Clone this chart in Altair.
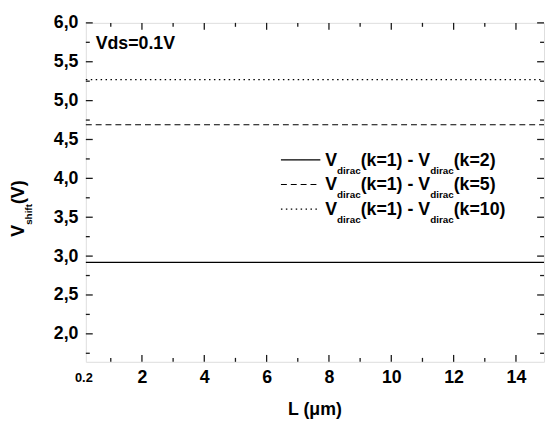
import altair as alt
import pandas as pd

# ---------------- data ----------------
k_values = [2, 5, 10]
v_shift = [2.92, 4.69, 5.27]          # V_shift (V), constant vs L
x_domain = [0.2, 14.9]
y_domain = [1.64, 6.0]
x_major = [2, 4, 6, 8, 10, 12, 14]
x_minor = [1, 3, 5, 7, 9, 11, 13]
y_major = [2.0, 2.5, 3.0, 3.5, 4.0, 4.5, 5.0, 5.5, 6.0]
y_minor = [1.75, 2.25, 2.75, 3.25, 3.75, 4.25, 4.75, 5.25, 5.75]
x_first_label = ["0.2"]
annotation = "Vds=0.1V"
x_title = "L (\u03bcm)"

# ---------------- styling ----------------
W, H = 465, 344
FONT = "Liberation Sans"
MAIN, SUB = 18, 10
INK = "#1a1a1a"
dashes = [[1, 0], [6, 4], [1.5, 3.5]]

AW = {'V': 667, 'd': 611, 'i': 278, 'r': 389, 'a': 556, 'c': 556, '(': 333, ')': 333,
      'k': 556, '=': 584, '1': 556, '2': 556, '5': 556, '0': 556, ' ': 278, '-': 333,
      's': 556, 'h': 611, 'f': 333, 't': 333}


def tw(s, size):
    return sum(AW.get(ch, 556) for ch in s) * size / 1000.0


xs = alt.Scale(domain=x_domain, nice=False, zero=False)
ys = alt.Scale(domain=y_domain, nice=False, zero=False)

xaxis = alt.Axis(values=x_major, ticks=False, domain=False, grid=False, title=None,
                 labelFont=FONT, labelFontWeight="bold", labelFontSize=MAIN,
                 labelColor="black", labelPadding=7)
yaxis = alt.Axis(values=y_major, ticks=False, domain=False, grid=False, title=None,
                 labelFont=FONT, labelFontWeight="bold", labelFontSize=MAIN,
                 labelColor="black", labelPadding=8,
                 labelExpr="replace(format(datum.value, '.1f'), '.', ',')")

labels = [f"V_dirac(k=1) - V_dirac(k={k})" for k in k_values]
df_lines = pd.DataFrame({"series": labels, "v": v_shift})

lines = alt.Chart(df_lines).mark_rule(color="black", strokeWidth=1.2).encode(
    y=alt.Y("v:Q", scale=ys, axis=yaxis),
    x=alt.value(0), x2=alt.value(W),
    strokeDash=alt.StrokeDash("series:N", scale=alt.Scale(domain=labels, range=dashes), legend=None),
)


def xticks(vals, length, top):
    d = pd.DataFrame({"x": vals})
    if top:
        yy, yy2 = alt.value(0), alt.value(length)
    else:
        yy, yy2 = alt.value(H), alt.value(H - length)
    return alt.Chart(d).mark_rule(color=INK, strokeWidth=1.3).encode(
        x=alt.X("x:Q", scale=xs, axis=xaxis), y=yy, y2=yy2)


def yticks(vals, length, right):
    d = pd.DataFrame({"y": vals})
    if right:
        xx, xx2 = alt.value(W), alt.value(W - length)
    else:
        xx, xx2 = alt.value(0), alt.value(length)
    return alt.Chart(d).mark_rule(color=INK, strokeWidth=1.3).encode(
        y=alt.Y("y:Q", scale=ys, axis=yaxis), x=xx, x2=xx2)


ticks = [xticks(x_major, 7, False), xticks(x_minor, 4, False),
         xticks(x_major, 7, True), xticks(x_minor, 4, True),
         yticks(y_major, 7, False), yticks(y_minor, 4, False),
         yticks(y_major, 7, True), yticks(y_minor, 4, True)]

first = alt.Chart(pd.DataFrame({"x": [x_domain[0]], "t": x_first_label})).mark_text(
    font=FONT, fontWeight="bold", fontSize=13, baseline="top", align="center", dx=-2, color="black"
).encode(x=alt.X("x:Q", scale=xs, axis=xaxis), y=alt.value(H + 10), text="t:N")

# ---------------- legend built from text pieces ----------------
leg_x0, leg_line0, leg_line1 = 243, 198, 238
row_base = [145, 170, 195]
rows = []
seg_rows = []
for i, k in enumerate(k_values):
    segs = [("V", MAIN, 0), ("dirac", SUB, 8), ("(k=1) - V", MAIN, 0), ("dirac", SUB, 8), (f"(k={k})", MAIN, 0)]
    cx = leg_x0
    for t, fs, off in segs:
        rows.append({"t": t, "px": cx, "py": row_base[i] + off, "fs": fs})
        cx += tw(t, fs)
    seg_rows.append({"series": labels[i], "x0": leg_line0, "x1": leg_line1, "yy": row_base[i] - 6})

leg_text = alt.Chart(pd.DataFrame(rows)).mark_text(
    font=FONT, fontWeight="bold", align="left", baseline="alphabetic", color="black"
).encode(x=alt.X("px:Q", scale=None), y=alt.Y("py:Q", scale=None),
         text="t:N", size=alt.Size("fs:Q", scale=None, legend=None))

leg_lines = alt.Chart(pd.DataFrame(seg_rows)).mark_rule(color="black", strokeWidth=1.2).encode(
    x=alt.X("x0:Q", scale=None), x2="x1:Q", y=alt.Y("yy:Q", scale=None),
    strokeDash=alt.StrokeDash("series:N", scale=alt.Scale(domain=labels, range=dashes), legend=None),
)

# ---------------- titles / annotation ----------------
ann = alt.Chart(pd.DataFrame({"t": [annotation]})).mark_text(
    font=FONT, fontWeight="bold", fontSize=MAIN, align="left", baseline="alphabetic", color="black"
).encode(x=alt.value(10), y=alt.value(27), text="t:N")

xt = alt.Chart(pd.DataFrame({"t": [x_title]})).mark_text(
    font=FONT, fontWeight="bold", fontSize=MAIN, align="center", baseline="alphabetic", color="black"
).encode(x=alt.value(W / 2), y=alt.value(H + 54), text="t:N")

yt_rows = []
cy = 217
for t, fs, off in [("V", MAIN, 0), ("shift", SUB, 8), (" (V)", MAIN, 0)]:
    yt_rows.append({"t": t, "px": -63 + off, "py": cy, "fs": fs})
    cy -= tw(t, fs)
yt = alt.Chart(pd.DataFrame(yt_rows)).mark_text(
    font=FONT, fontWeight="bold", align="left", baseline="alphabetic", angle=270, color="black"
).encode(x=alt.X("px:Q", scale=None), y=alt.Y("py:Q", scale=None),
         text="t:N", size=alt.Size("fs:Q", scale=None, legend=None))

chart = alt.layer(lines, *ticks, first, leg_lines, leg_text, ann, xt, yt).properties(
    width=W, height=H,
    autosize=alt.AutoSizeParams(type="none"),
    padding={"left": 79, "top": 12, "right": 1, "bottom": 60},
).configure_view(stroke=INK, strokeWidth=1.5).configure(background="white")

chart.save("out.html", embed_options={"renderer": "svg", "actions": False})
